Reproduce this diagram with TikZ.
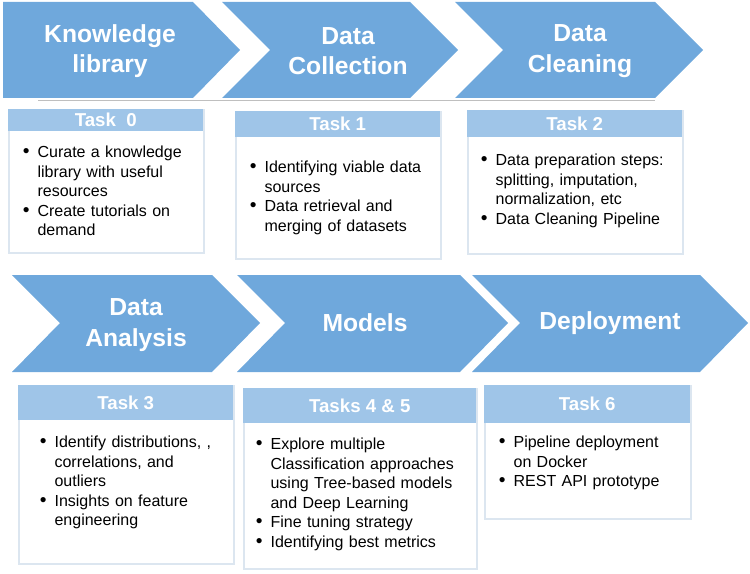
\documentclass[tikz,border=0pt]{standalone}
\usepackage{fontspec}
\setmainfont{Liberation Sans}
\usepackage{enumitem}
\usepackage{tikz}
\definecolor{chev}{HTML}{6FA8DC}
\definecolor{head}{HTML}{9FC5E8}
\definecolor{rim}{HTML}{DCE6F0}
\tikzset{
  steptext/.style={text=white,font=\fontsize{18.5}{23}\selectfont\bfseries,align=center},
  taskbox/.style={draw=rim,line width=1.2pt,fill=white,anchor=north west,inner sep=0pt},
  taskhead/.style={fill=head,anchor=north west,inner sep=0pt,text=white,
    font=\fontsize{14}{15}\selectfont\bfseries},
  tasktext/.style={anchor=north west,inner sep=0pt,font=\fontsize{12}{14.6}\selectfont}
}
\setlist[itemize]{label={\Large\textbullet},leftmargin=13pt,labelsep=6pt,itemsep=0pt,topsep=0pt,parsep=0pt}
\begin{document}
\begin{tikzpicture}[x=0.75pt,y=-0.75pt]
  \useasboundingbox (0,0) rectangle (750,574);
  % top row of steps
  \fill[chev] (3,2) -- (193,2) -- (240,50) -- (193,98) -- (3,98) -- cycle;
  \fill[chev] (222,2) -- (410,2) -- (458,50) -- (410,98) -- (222,98) -- (270,50) -- cycle;
  \fill[chev] (455,2) -- (655,2) -- (703,50) -- (655,98) -- (455,98) -- (503,50) -- cycle;
  \draw[gray!50] (38,100) -- (655,100);
  \node[steptext] (know) at (110,51) {Knowledge\\library};
  \node[steptext] (coll) at (348,51) {Data\\Collection};
  \node[steptext] (clean) at (580,51) {Data\\Cleaning};
  % bottom row of steps
  \fill[chev] (12,275) -- (212,275) -- (260,323) -- (212,372) -- (12,372) -- (60,323) -- cycle;
  \fill[chev] (237,275) -- (460,275) -- (508,323) -- (460,372) -- (237,372) -- (285,323) -- cycle;
  \fill[chev] (472,275) -- (700,275) -- (748,323) -- (700,372) -- (472,372) -- (520,323) -- cycle;
  \node[steptext] (anal) at (136,325) {Data\\Analysis};
  \node[steptext] (mod) at (365,323) {Models};
  \node[steptext] (depl) at (610,323) {Deployment};
  % task boxes
  \node[taskbox,minimum width=195*0.75pt,minimum height=143*0.75pt] (b0) at (8,109) {};
  \node[taskhead,minimum width=195*0.75pt,minimum height=22*0.75pt] (h0) at (8,109) {Task\ \ 0};
  \node[tasktext,text width=172*0.75pt] (t0) at (20,138) {\begin{itemize}
    \item Curate a knowledge library with useful resources
    \item Create tutorials on demand\end{itemize}};
  \node[taskbox,minimum width=205*0.75pt,minimum height=147*0.75pt] (b1) at (235,111) {};
  \node[taskhead,minimum width=205*0.75pt,minimum height=26*0.75pt] (h1) at (235,111) {Task 1};
  \node[tasktext,text width=185*0.75pt] (t1) at (247,153) {\begin{itemize}
    \item Identifying viable data sources
    \item Data retrieval and merging of datasets\end{itemize}};
  \node[taskbox,minimum width=215*0.75pt,minimum height=143*0.75pt] (b2) at (467,110) {};
  \node[taskhead,minimum width=215*0.75pt,minimum height=27*0.75pt] (h2) at (467,110) {Task 2};
  \node[tasktext,text width=205*0.75pt] (t2) at (478,146) {\begin{itemize}
    \item Data preparation steps: splitting, imputation, normalization, etc
    \item Data Cleaning Pipeline\end{itemize}};
  \node[taskbox,minimum width=215*0.75pt,minimum height=178*0.75pt] (b3) at (18,385) {};
  \node[taskhead,minimum width=215*0.75pt,minimum height=35*0.75pt] (h3) at (18,385) {Task 3};
  \node[tasktext,text width=180*0.75pt] (t3) at (37,428) {\begin{itemize}
    \item Identify distributions, , correlations, and outliers
    \item Insights on feature engineering\end{itemize}};
  \node[taskbox,minimum width=233*0.75pt,minimum height=180*0.75pt] (b4) at (243,388) {};
  \node[taskhead,minimum width=233*0.75pt,minimum height=35*0.75pt] (h4) at (243,388) {Tasks 4 \& 5};
  \node[tasktext,text width=215*0.75pt] (t4) at (253,430) {\begin{itemize}
    \item Explore multiple Classification approaches using Tree-based models and Deep Learning
    \item Fine tuning strategy
    \item Identifying best metrics\end{itemize}};
  \node[taskbox,minimum width=206*0.75pt,minimum height=133*0.75pt] (b6) at (484,385) {};
  \node[taskhead,minimum width=206*0.75pt,minimum height=38*0.75pt] (h6) at (484,385) {Task 6};
  \node[tasktext,text width=180*0.75pt] (t6) at (496,428) {\begin{itemize}
    \item Pipeline deployment on Docker
    \item REST API prototype\end{itemize}};
\end{tikzpicture}
\end{document}
